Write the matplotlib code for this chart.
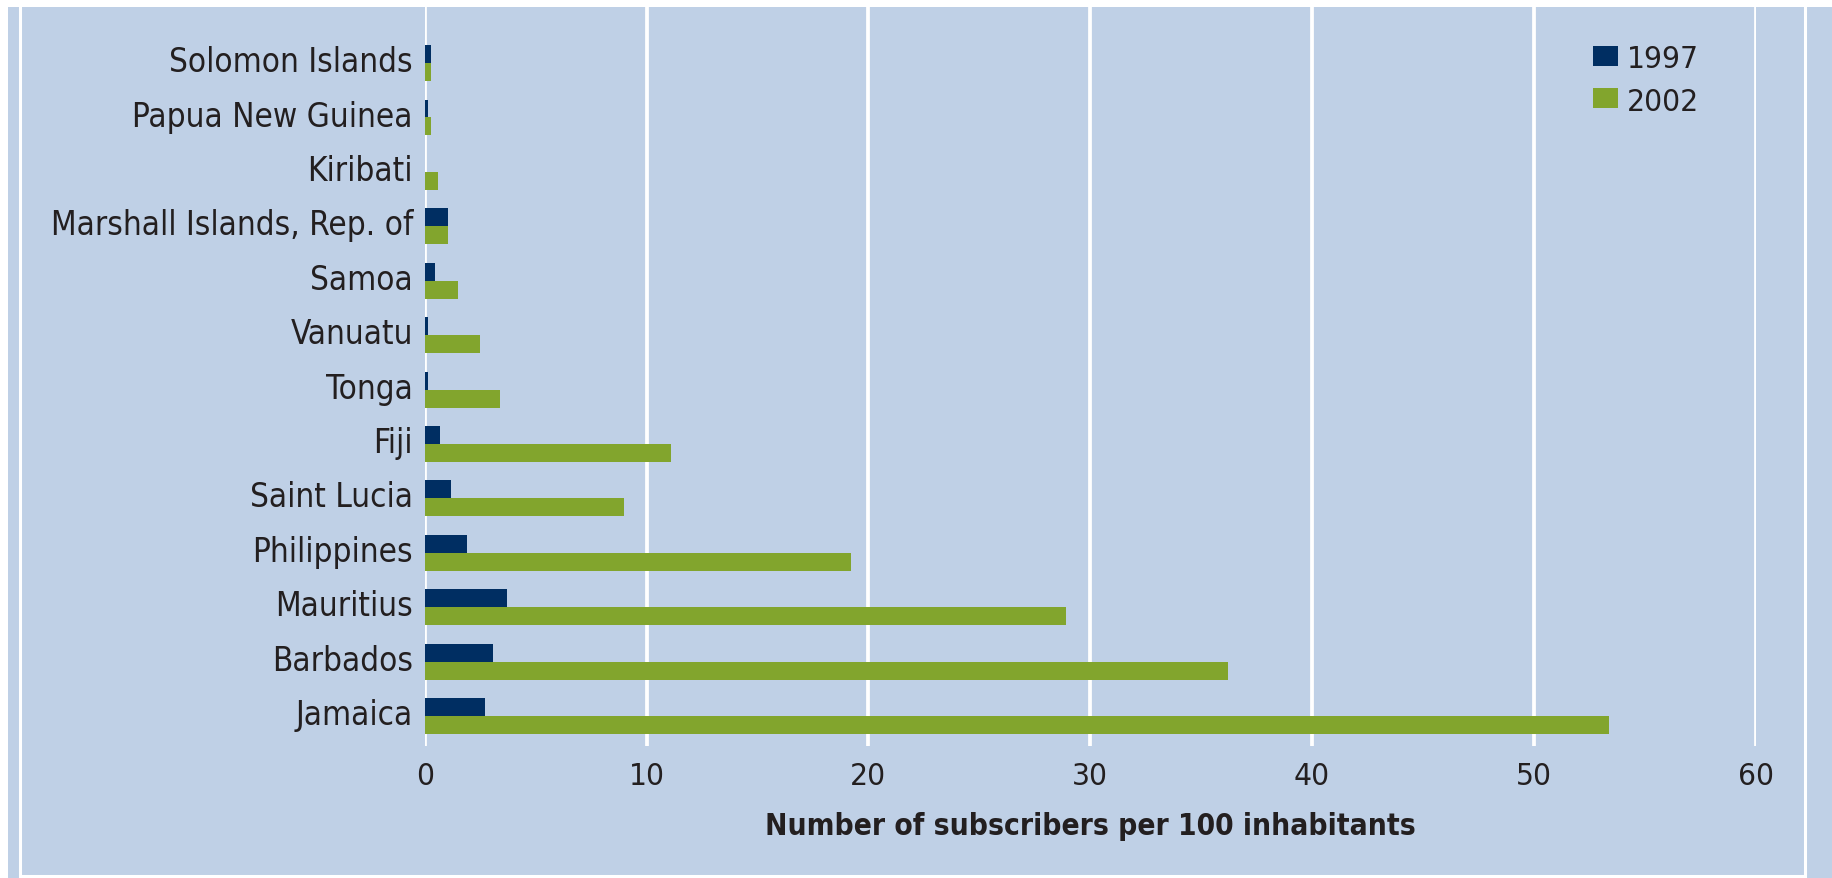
import os
import matplotlib
matplotlib.use("Agg")
import matplotlib.pyplot as plt
import matplotlib.font_manager as fm
from matplotlib.patches import Rectangle

# data (subscribers per 100 inhabitants)
countries = ["Jamaica", "Barbados", "Mauritius", "Philippines", "Saint Lucia",
             "Fiji", "Tonga", "Vanuatu", "Samoa", "Marshall Islands, Rep. of",
             "Kiribati", "Papua New Guinea", "Solomon Islands"]
values_1997 = [2.7, 3.1, 3.7, 1.9, 1.2, 0.7, 0.15, 0.14, 0.45, 1.05, 0.0, 0.14, 0.27]
values_2002 = [53.4, 36.2, 28.9, 19.2, 9.0, 11.1, 3.4, 2.5, 1.5, 1.05, 0.6, 0.27, 0.27]
xticks = [0, 10, 20, 30, 40, 50, 60]

BG = "#BFD0E6"
NAVY = "#002E62"
GREEN = "#82A52D"
TXT = "#231F20"


def find_font(patterns):
    # look for a narrow/condensed face among the installed fonts
    files = [f.fname for f in fm.fontManager.ttflist]
    for p in patterns:
        for fn in files:
            if os.path.basename(fn).lower().startswith(p):
                return fn
    return None


reg_file = find_font(["liberationsansnarrow-regular", "notosans-condensed.",
                      "dejavusanscondensed.", "robotocondensed-regular",
                      "roboto_condensed-regular", "opensans-condensed.",
                      "opensans_condensed-regular"])
bold_file = find_font(["liberationsansnarrow-bold.", "notosans-condensedbold.",
                       "dejavusanscondensed-bold.", "robotocondensed-bold.",
                       "roboto_condensed-bold.", "opensans-condensedbold.",
                       "opensans_condensed-bold."])


def fprop(fname, weight, size):
    if fname:
        return fm.FontProperties(fname=fname, size=size)
    return fm.FontProperties(family="Liberation Sans", weight=weight, size=size)


fig = plt.figure(figsize=(18.32, 8.79), dpi=100, facecolor=BG)
renderer = fig.canvas.get_renderer()


def fit_size(fname, weight, text, target_px):
    t = fig.text(0, 0, text, fontproperties=fprop(fname, weight, 10))
    w = t.get_window_extent(renderer).width
    t.remove()
    return 10 * target_px / w


lab_size = min(fit_size(reg_file, "normal", "Marshall Islands, Rep. of", 363), 29)
xl_size = min(fit_size(bold_file, "bold", "Number of subscribers per 100 inhabitants", 648), 28)
fp_lab = fprop(reg_file, "normal", lab_size)
fp_tick = fprop(reg_file, "normal", lab_size * 0.95)
fp_xl = fprop(bold_file, "bold", xl_size)

ax = fig.add_axes([424.7 / 1832, 1 - 747 / 879, 1330.8 / 1832, 739 / 879])
ax.set_facecolor(BG)

pos = list(range(len(countries)))
h = 0.33
ax.barh([p + h / 2 for p in pos], values_1997, height=h, color=NAVY, label="1997", zorder=3)
ax.barh([p - h / 2 for p in pos], values_2002, height=h, color=GREEN, label="2002", zorder=3)

ax.set_xlim(0, 60)
ax.set_ylim(-0.55, 13.03)
ax.set_xticks(xticks)
# labels sit a little above the middle of each pair of bars
ax.set_yticks([p + 0.09 for p in pos])
ax.set_yticklabels(countries)
ax.tick_params(length=0, colors=TXT)
ax.tick_params(axis="y", pad=8.5)
ax.tick_params(axis="x", pad=11)
for t in ax.get_yticklabels():
    t.set_fontproperties(fp_lab)
for t in ax.get_xticklabels():
    t.set_fontproperties(fp_tick)
ax.xaxis.grid(True, color="white", linewidth=2.7, zorder=1)
ax.set_axisbelow(True)
for s in ax.spines.values():
    s.set_visible(False)

lbl = ax.set_xlabel("Number of subscribers per 100 inhabitants", fontproperties=fp_xl,
                    color=TXT)
ax.xaxis.set_label_coords(0.5, (747 - 827) / 739)
lbl.set_va("center")

ax.legend(loc="upper left", bbox_to_anchor=(1593 / 1832, 1 - 45 / 879),
          bbox_transform=fig.transFigure, frameon=False, prop=fp_tick,
          borderpad=0, borderaxespad=0, handlelength=0.78, handleheight=0.6,
          handletextpad=0.3, labelspacing=0.43, labelcolor=TXT)

# white frame around the picture
fig.patches.append(Rectangle((0, 1 - 8 / 879), 1, 8 / 879, transform=fig.transFigure,
                             facecolor="white", edgecolor="none"))
fig.patches.append(Rectangle((0, 0), 8 / 1832, 1, transform=fig.transFigure,
                             facecolor="white", edgecolor="none"))
fig.patches.append(Rectangle((19.5 / 1832, 1 - 876.5 / 879), 1785 / 1832, 871.5 / 879,
                             transform=fig.transFigure, facecolor="none",
                             edgecolor="white", linewidth=2.2))

fig.savefig("out.png", dpi=100, facecolor=BG)
